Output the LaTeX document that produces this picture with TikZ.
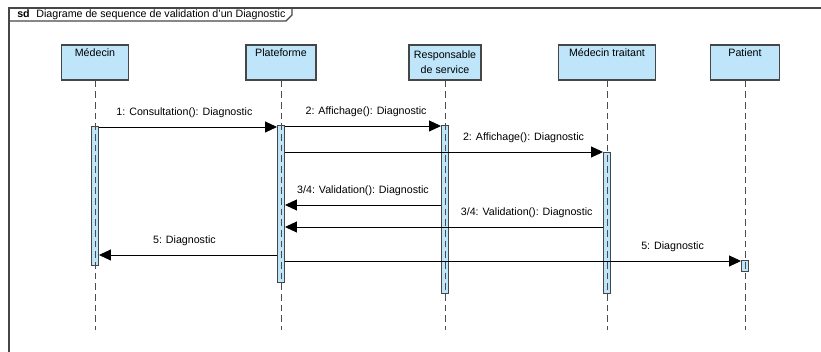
\documentclass[tikz,border=0pt]{standalone}
\usepackage{fontspec}
\setmainfont{Liberation Sans}
\usetikzlibrary{arrows.meta, positioning, calc}
\definecolor{lifeblue}{RGB}{190,229,249}
\definecolor{edgegray}{RGB}{70,70,70}

\begin{document}
\begin{tikzpicture}[
  x=0.75pt, y=-0.75pt,
  every node/.style={font=\fontsize{8}{11.25}\selectfont},
  head/.style={draw=edgegray, fill=lifeblue, line width=0.8pt, align=center,
               minimum height=35*0.75pt, inner sep=0pt},
  actbar/.style={draw=edgegray, fill=lifeblue, line width=0.7pt,
                 minimum width=7*0.75pt, inner sep=0pt},
  lifeline/.style={dash pattern=on 5pt off 3pt, line width=0.7pt, color=black!70},
  msg/.style={-{Triangle[length=9pt, width=8.25pt]}, line width=0.7pt},
  lbl/.style={text height=6pt, text depth=1.7pt, inner sep=1pt, above=5.5pt}
]
\useasboundingbox (0,0) rectangle (821,352);

% Cadre sd
\draw[line width=0.8pt, edgegray] (9,360) |- (830,8);
\draw[line width=0.8pt, edgegray] (9,21) -- (286,21) -- (292,15) -- (292,8);
\node[anchor=west, inner sep=0pt] (sd) at (17,14.5)
  {\textbf{sd}\hspace{5pt}Diagrame de sequence de validation d'un Diagnostic};

% Lignes de vie
\node[head, minimum width=67*0.75pt] (medecin) at (95,62.5) {Médecin\\\strut};
\node[head, minimum width=70*0.75pt] (plateforme) at (281,62.5) {Plateforme\\\strut};
\node[head, minimum width=72*0.75pt] (responsable) at (445,62.5) {Responsable\\de service};
\node[head, minimum width=97*0.75pt] (traitant) at (607,62.5) {Médecin traitant\\\strut};
\node[head, minimum width=69*0.75pt] (patient) at (745,62.5) {Patient\\\strut};

% Barres d'activation
\node[actbar, minimum height=139*0.75pt] (actMed) at (95,195.5) {};
\node[actbar, minimum height=157*0.75pt] (actPla) at (281,203.5) {};
\node[actbar, minimum height=168*0.75pt] (actRes) at (445,209) {};
\node[actbar, minimum height=141*0.75pt] (actTra) at (607,222.5) {};
\node[actbar, minimum height=11*0.75pt] (actPat) at (745,265.5) {};

\foreach \h in {medecin, plateforme, responsable, traitant, patient}
  \draw[lifeline] (\h.south) -- (\h.south |- 0,330);

% Messages
\draw[msg] (actMed.east |- 0,127) -- (actPla.west |- 0,127)
  node[lbl, pos=0.48] {1: Consultation(): Diagnostic};
\draw[msg] (actPla.east |- 0,126) -- (actRes.west |- 0,126)
  node[lbl, pos=0.52] {2: Affichage(): Diagnostic};
\draw[msg] (actPla.east |- 0,152) -- (actTra.west |- 0,152)
  node[lbl, pos=0.75] {2: Affichage(): Diagnostic};
\draw[msg] (actRes.west |- 0,205) -- (actPla.east |- 0,205)
  node[lbl, pos=0.5] {3/4: Validation(): Diagnostic};
\draw[msg] (actTra.west |- 0,227) -- (actPla.east |- 0,227)
  node[lbl, pos=0.24] {3/4: Validation(): Diagnostic};
\draw[msg] (actPla.west |- 0,255) -- (actMed.east |- 0,255)
  node[lbl, pos=0.52] {5: Diagnostic};
\draw[msg] (actPla.east |- 0,261) -- (actPat.west |- 0,261)
  node[lbl, pos=0.85] {5: Diagnostic};

\end{tikzpicture}
\end{document}
